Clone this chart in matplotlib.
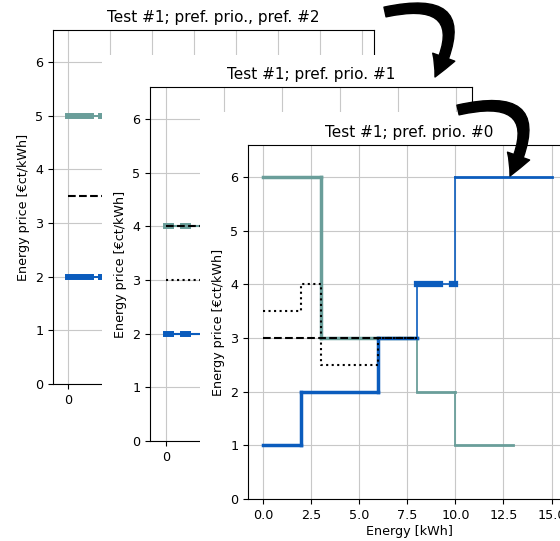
import matplotlib
matplotlib.use("Agg")
import matplotlib.pyplot as plt
from matplotlib.collections import LineCollection
from matplotlib.patches import Rectangle, FancyArrowPatch
import numpy as np

plt.rcParams["font.size"] = 9.2

TEAL = "#6a9e9a"
BLUE = "#0b5cbd"
W, H = 560, 541

titles = ["Test #1; pref. prio., pref. #2", "Test #1; pref. prio. #1", "Test #1; pref. prio. #0"]
ylabel = "Energy price [€ct/kWh]"
xlabel = "Energy [kWh]"

# pref. #2 (back)
back_teal_x = [0, 1.37, 1.95, 2.6]
back_teal_y = [5, 5, 5, 5]
back_teal_w = [4.3, 1.4, 4.3]
back_blue_x = [0, 1.37, 1.95, 2.6]
back_blue_y = [2, 2, 2, 2]
back_blue_w = [4.3, 1.4, 4.3]
back_dashed_x = [0, 2.6]
back_dashed_y = [3.5, 3.5]

# pref. prio. #1 (middle)
mid_teal_x = [0, 0.22, 0.75, 0.97, 2.0]
mid_teal_y = [4, 4, 4, 4, 4]
mid_teal_w = [4.3, 1.5, 4.3, 1.5]
mid_blue_x = [0, 0.22, 0.75, 0.97, 2.0]
mid_blue_y = [2, 2, 2, 2, 2]
mid_blue_w = [4.3, 1.5, 4.3, 1.5]
mid_dashed_x = [0, 2.0]
mid_dashed_y = [4, 4]
mid_dotted_x = [0, 2.0]
mid_dotted_y = [3, 3]

# pref. prio. #0 (front)
front_teal_x = [0, 3, 3, 8, 8, 10, 10, 13]
front_teal_y = [6, 6, 3, 3, 2, 2, 1, 1]
front_teal_w = [2.5, 2.5, 2.5, 1.3, 2.0, 1.3, 2.0]
front_blue_x = [0, 2, 2, 6, 6, 8, 8, 9.2, 9.8, 10, 10, 15]
front_blue_y = [1, 1, 2, 2, 3, 3, 4, 4, 4, 4, 6, 6]
front_blue_w = [2.5, 2.5, 2.5, 2.5, 2.5, 1.2, 4.5, 1.2, 4.5, 1.2, 2.0]
front_dotted_x = [0, 2, 2, 3, 3, 6, 6, 8]
front_dotted_y = [3.5, 3.5, 4, 4, 2.5, 2.5, 3, 3]
front_dashed_x = [0, 8]
front_dashed_y = [3, 3]


def px_box(left, top, right, bottom):
    return [left / W, 1 - bottom / H, (right - left) / W, (bottom - top) / H]


def step_line(ax, x, y, widths, color, z=2):
    pts = np.column_stack([x, y])
    segs = np.stack([pts[:-1], pts[1:]], axis=1)
    lc = LineCollection(segs, linewidths=widths, colors=color,
                        capstyle="projecting", zorder=z)
    ax.add_collection(lc)


def setup(ax, title, xlim, xticks):
    ax.set_xlim(*xlim)
    ax.set_ylim(0, 6.6)
    ax.set_xticks(xticks)
    ax.set_yticks(range(7))
    ax.grid(True, color="#c8c8c8", lw=0.8)
    ax.set_axisbelow(True)
    ax.set_title(title, fontsize=11)
    ax.set_ylabel(ylabel)


fig = plt.figure(figsize=(W / 100, H / 100), dpi=100)

# back
ax0 = fig.add_axes(px_box(53, 30, 374, 384))
ax0.set_zorder(1)
setup(ax0, titles[0], (-0.89, 18.2), np.arange(0, 18.1, 2.5))
ax0.set_xticklabels(["0"] + [""] * 7)
step_line(ax0, back_teal_x, back_teal_y, back_teal_w, TEAL)
step_line(ax0, back_blue_x, back_blue_y, back_blue_w, BLUE)
ax0.plot(back_dashed_x, back_dashed_y, "k--", lw=1.5, zorder=3)

fig.add_artist(Rectangle((102 / W, 0), 1, 1 - 55 / H, transform=fig.transFigure,
                         facecolor="white", edgecolor="none", zorder=2))

# middle
ax1 = fig.add_axes(px_box(150, 87, 472, 441))
ax1.set_zorder(3)
setup(ax1, titles[1], (-0.68, 13.2), np.arange(0, 13.1, 2.5))
ax1.set_xticklabels(["0"] + [""] * 5)
step_line(ax1, mid_teal_x, mid_teal_y, mid_teal_w, TEAL)
step_line(ax1, mid_blue_x, mid_blue_y, mid_blue_w, BLUE)
ax1.plot(mid_dashed_x, mid_dashed_y, "k--", lw=1.5, zorder=3)
ax1.plot(mid_dotted_x, mid_dotted_y, "k:", lw=1.5, zorder=3)

fig.add_artist(Rectangle((199.5 / W, 0), 1, 1 - 112 / H, transform=fig.transFigure,
                         facecolor="white", edgecolor="none", zorder=4))

# front
ax2 = fig.add_axes(px_box(248, 145, 570, 499))
ax2.set_zorder(5)
setup(ax2, titles[2], (-0.78, 15.96), np.arange(0, 15.1, 2.5))
ax2.set_xlabel(xlabel, labelpad=2)
step_line(ax2, front_teal_x, front_teal_y, front_teal_w, TEAL)
step_line(ax2, front_blue_x, front_blue_y, front_blue_w, BLUE, z=2.5)
ax2.plot(front_dashed_x, front_dashed_y, "k--", lw=1.5, zorder=3)
ax2.plot(front_dotted_x, front_dotted_y, "k:", lw=1.5, zorder=3)

# arrows
for (tx, ty), (hx, hy) in [((385, 12), (435, 77)), ((458, 110), (510, 176))]:
    arr = FancyArrowPatch((tx / W, 1 - ty / H), (hx / W, 1 - hy / H),
                          transform=fig.transFigure,
                          connectionstyle="arc3,rad=-1.05",
                          arrowstyle="simple,head_length=1.2,head_width=1.3,tail_width=0.55",
                          mutation_scale=13, color="black", shrinkA=0, shrinkB=0,
                          zorder=6)
    fig.add_artist(arr)

fig.savefig("out.png", dpi=100)
